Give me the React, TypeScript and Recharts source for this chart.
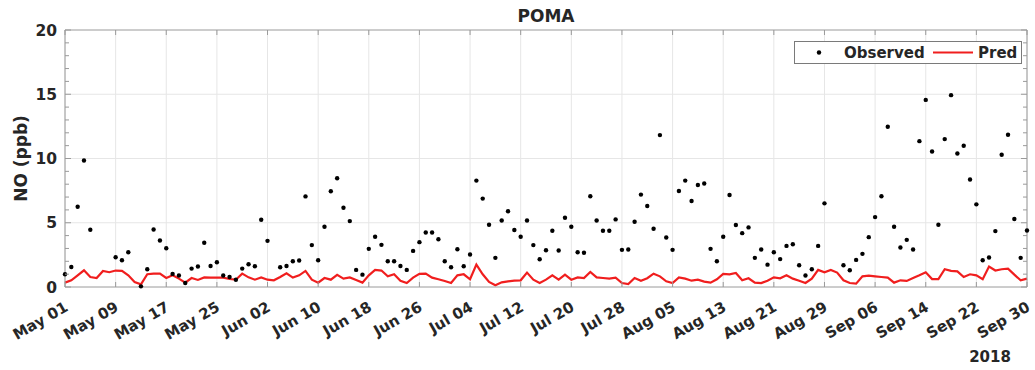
import React from 'react';
import {
  ComposedChart,
  Line,
  Scatter,
  XAxis,
  YAxis,
  CartesianGrid,
  ReferenceLine,
  Legend,
} from 'recharts';

// Day index 0 = 2018-05-01 ... 152 = 2018-09-30
const observedNO: (number | null)[] = [
  0.99, 1.56, 6.25, 9.84, 4.45, null, null, null, 2.32, 2.08,
  2.71, null, 0.05, 1.38, 4.48, 3.62, 3.02, 1.02, 0.89, 0.31,
  1.43, 1.59, 3.44, 1.64, 1.93, 0.89, 0.78, 0.57, 1.43, 1.77,
  1.61, 5.23, 3.59, null, 1.54, 1.64, 2.0, 2.06, 7.05, 3.26,
  2.08, 4.69, 7.45, 8.46, 6.17, 5.13, 1.33, 0.96, 2.97, 3.91,
  3.28, 2.0, 2.0, 1.64, 1.33, 2.81, 3.49, 4.24, 4.24, 3.72,
  2.0, 1.54, 2.94, 1.61, 2.53, 8.28, 6.88, 4.84, 2.27, 5.18,
  5.89, 4.43, 3.91, 5.18, 3.26, 2.16, 2.86, 4.38, 2.84, 5.39,
  4.69, 2.71, 2.66, 7.06, 5.18, 4.38, 4.38, 5.26, 2.89, 2.92,
  5.08, 7.19, 6.3, 4.53, 11.82, 3.85, 2.89, 7.47, 8.28, 6.69,
  7.94, 8.05, 2.97, 2.0, 3.91, 7.16, 4.82, 4.19, 4.64, 2.27,
  2.92, 1.74, 2.71, 2.17, 3.2, 3.33, 1.69, 0.89, 1.38, 3.2,
  6.51, null, null, 1.69, 1.3, 2.11, 2.58, 3.88, 5.44, 7.06,
  12.47, 4.69, 3.07, 3.67, 2.92, 11.35, 14.56, 10.55, 4.84, 11.51,
  14.93, 10.39, 10.99, 8.36, 6.43, 2.08, 2.29, 4.35, 10.29, 11.85,
  5.29, 2.27, 4.4,
];

const predNO: number[] = [
  0.34, 0.52, 0.91, 1.3, 0.78, 0.7, 1.25, 1.15, 1.28, 1.25,
  0.91, 0.39, 0.21, 0.99, 1.04, 1.04, 0.7, 0.91, 0.65, 0.34,
  0.7, 0.55, 0.75, 0.73, 0.73, 0.73, 0.62, 0.57, 1.04, 0.75,
  0.57, 0.75, 0.57, 0.52, 0.78, 1.07, 0.73, 0.91, 1.25, 0.57,
  0.34, 0.7, 0.57, 0.94, 0.65, 0.75, 0.55, 0.34, 0.91, 1.33,
  1.28, 0.83, 0.99, 0.49, 0.31, 0.73, 1.02, 1.04, 0.73, 0.6,
  0.47, 0.31, 0.91, 0.99, 0.6, 1.74, 0.99, 0.39, 0.13, 0.36,
  0.44, 0.49, 0.52, 1.12, 0.57, 0.31, 0.57, 0.91, 0.57, 0.96,
  0.57, 0.75, 0.7, 1.17, 0.75, 0.7, 0.65, 0.73, 0.31, 0.23,
  0.7, 0.49, 0.68, 1.04, 0.83, 0.44, 0.31, 0.75, 0.65, 0.49,
  0.57, 0.42, 0.34, 0.6, 1.02, 0.99, 1.09, 0.52, 0.68, 0.34,
  0.31, 0.49, 0.75, 0.68, 0.91, 0.65, 0.49, 0.31, 0.65, 1.33,
  1.15, 1.33, 1.12, 0.52, 0.31, 0.26, 0.83, 0.89, 0.83, 0.78,
  0.73, 0.34, 0.52, 0.47, 0.7, 0.91, 1.15, 0.62, 0.62, 1.38,
  1.25, 1.22, 0.78, 0.99, 0.91, 0.6, 1.59, 1.28, 1.38, 1.43,
  0.96, 0.52, 0.65,
];

const xTickDays = [0, 8, 16, 24, 32, 40, 48, 56, 64, 72, 80, 88, 96, 104, 112, 120, 128, 136, 144, 152];
const xTickLabels = [
  'May 01', 'May 09', 'May 17', 'May 25', 'Jun 02', 'Jun 10', 'Jun 18', 'Jun 26',
  'Jul 04', 'Jul 12', 'Jul 20', 'Jul 28', 'Aug 05', 'Aug 13', 'Aug 21', 'Aug 29',
  'Sep 06', 'Sep 14', 'Sep 22', 'Sep 30',
];
const yMajorTicks = [0, 5, 10, 15, 20];
const yAllTicks = [0, 1, 2, 3, 4, 5, 6, 7, 8, 9, 10, 11, 12, 13, 14, 15, 16, 17, 18, 19, 20];
const yearLabel = '2018';
const titleText = 'POMA';
const yLabelText = 'NO (ppb)';

const rows = predNO.map((p, i) => ({ day: i, obs: observedNO[i], pred: p }));
const obsRows = rows.filter((r) => r.obs !== null);

const FONT = '"DejaVu Sans", Verdana, sans-serif';
const TEXT = '#262626';
const FRAME = '#9a9a9a';
const GRID = '#e6e6e6';
const RED = '#f01e1e';

const BottomTick = (props: any) => {
  const { x, y, payload } = props;
  const idx = xTickDays.indexOf(payload.value);
  const label = idx >= 0 ? xTickLabels[idx] : '';
  const ax = x + 4;
  const ay = y + 23;
  return (
    <g>
      <line x1={x} y1={y} x2={x} y2={y - 5} stroke={FRAME} strokeWidth={1} />
      <text
        x={ax}
        y={ay}
        textAnchor="end"
        transform={`rotate(-30 ${ax} ${ay})`}
        fontFamily={FONT}
        fontWeight="bold"
        fontSize={15}
        fill={TEXT}
      >
        {label}
      </text>
    </g>
  );
};

const TopTick = (props: any) => {
  const { x, y } = props;
  return <line x1={x} y1={y} x2={x} y2={y + 5} stroke={FRAME} strokeWidth={1} />;
};

const LeftTick = (props: any) => {
  const { x, y, payload } = props;
  const major = yMajorTicks.includes(payload.value);
  return (
    <g>
      <line x1={x} y1={y} x2={x + (major ? 6 : 4)} y2={y} stroke={FRAME} strokeWidth={1} />
      {major && (
        <text
          x={x - 8}
          y={y}
          dy="0.36em"
          textAnchor="end"
          fontFamily={FONT}
          fontWeight="bold"
          fontSize={15.5}
          fill={TEXT}
        >
          {payload.value}
        </text>
      )}
    </g>
  );
};

const RightTick = (props: any) => {
  const { x, y, payload } = props;
  const major = yMajorTicks.includes(payload.value);
  return <line x1={x} y1={y} x2={x - (major ? 6 : 4)} y2={y} stroke={FRAME} strokeWidth={1} />;
};

const DotShape = (props: any) => {
  const { cx, cy } = props;
  if (cx == null || cy == null) return null;
  return <circle cx={cx} cy={cy} r={2.2} fill="#000" />;
};

const LegendBox = () => (
  <svg width={228} height={23} style={{ display: 'block' }}>
    <rect x={0.5} y={0.5} width={227} height={22} fill="#fff" stroke="#7a7a7a" strokeWidth={1} />
    <circle cx={25} cy={11.5} r={2.2} fill="#000" />
    <text x={50} y={11.5} dy="0.36em" fontFamily={FONT} fontWeight="bold" fontSize={15} fill={TEXT}>
      Observed
    </text>
    <line x1={139} y1={11.5} x2={179} y2={11.5} stroke={RED} strokeWidth={2} />
    <text x={184} y={11.5} dy="0.36em" fontFamily={FONT} fontWeight="bold" fontSize={15} fill={TEXT}>
      Pred
    </text>
  </svg>
);

export default function App() {
  return (
    <div style={{ position: 'absolute', left: 0, top: 0, width: 1035, height: 370, background: '#fff' }}>
      <ComposedChart
        width={1035}
        height={370}
        data={rows}
        margin={{ top: 29, right: 7, bottom: 13, left: 0 }}
      >
        <CartesianGrid xAxisId="bottom" yAxisId="left" horizontal={false} stroke={GRID} strokeWidth={1} />
        {[5, 10, 15].map((v) => (
          <ReferenceLine key={v} xAxisId="bottom" yAxisId="left" y={v} stroke={GRID} strokeWidth={1} />
        ))}
        <XAxis
          xAxisId="bottom"
          dataKey="day"
          type="number"
          domain={[0, 152]}
          ticks={xTickDays}
          interval={0}
          height={70}
          orientation="bottom"
          stroke={FRAME}
          tickLine={false}
          tickSize={0}
          tickMargin={0}
          tick={<BottomTick />}
          label={(p: any) => {
            const vb = p.viewBox || {};
            return (
              <text
                x={vb.x + vb.width - 37}
                y={vb.y + 75}
                textAnchor="middle"
                fontFamily={FONT}
                fontWeight="bold"
                fontSize={15}
                fill={TEXT}
              >
                {yearLabel}
              </text>
            );
          }}
        />
        <XAxis
          xAxisId="top"
          dataKey="day"
          type="number"
          domain={[0, 152]}
          ticks={xTickDays}
          interval={0}
          height={1}
          orientation="top"
          stroke={FRAME}
          tickLine={false}
          tickSize={0}
          tickMargin={0}
          tick={<TopTick />}
          label={(p: any) => {
            const vb = p.viewBox || {};
            return (
              <text
                x={vb.x + vb.width / 2}
                y={vb.y - 7}
                textAnchor="middle"
                fontFamily={FONT}
                fontWeight="bold"
                fontSize={17}
                fill={TEXT}
              >
                {titleText}
              </text>
            );
          }}
        />
        <YAxis
          yAxisId="left"
          type="number"
          domain={[0, 20]}
          ticks={yAllTicks}
          interval={0}
          width={65}
          orientation="left"
          stroke={FRAME}
          tickLine={false}
          tickSize={0}
          tickMargin={0}
          tick={<LeftTick />}
          label={(p: any) => {
            const vb = p.viewBox || {};
            const cx = vb.x + 21;
            const cy = vb.y + vb.height / 2;
            return (
              <text
                x={cx}
                y={cy}
                textAnchor="middle"
                dy="0.36em"
                transform={`rotate(-90 ${cx} ${cy})`}
                fontFamily={FONT}
                fontWeight="bold"
                fontSize={17}
                fill={TEXT}
              >
                {yLabelText}
              </text>
            );
          }}
        />
        <YAxis
          yAxisId="right"
          type="number"
          domain={[0, 20]}
          ticks={yAllTicks}
          interval={0}
          width={1}
          orientation="right"
          stroke={FRAME}
          tickLine={false}
          tickSize={0}
          tickMargin={0}
          tick={<RightTick />}
        />
        <Line
          xAxisId="bottom"
          yAxisId="right"
          type="linear"
          dataKey="pred"
          stroke={RED}
          strokeWidth={2.2}
          dot={false}
          activeDot={false}
          isAnimationActive={false}
          name="Pred"
        />
        <Scatter
          xAxisId="top"
          yAxisId="left"
          data={obsRows}
          dataKey="obs"
          shape={<DotShape />}
          isAnimationActive={false}
          name="Observed"
        />
        <Legend
          layout="horizontal"
          verticalAlign="middle"
          align="center"
          wrapperStyle={{ position: 'absolute', top: 41, left: 794, width: 228, height: 23 }}
          content={() => <LegendBox />}
        />
      </ComposedChart>
    </div>
  );
}
